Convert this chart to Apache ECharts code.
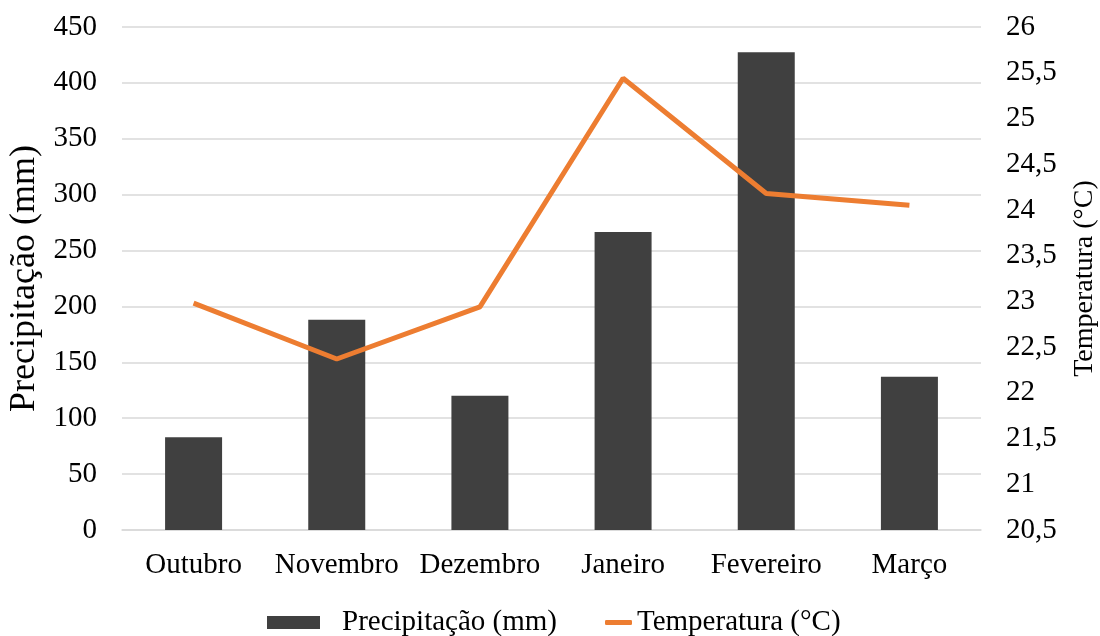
<!DOCTYPE html>
<html>
<head>
<meta charset="utf-8">
<script src="https://cdn.jsdelivr.net/npm/echarts@6/dist/echarts.min.js"></script>
<style>
  html, body { margin: 0; padding: 0; background: #fff; }
  #chart { width: 1100px; height: 636px; }
</style>
</head>
<body>
<div id="chart"></div>
<script>
// Monthly rainfall and mean temperature
const months = ['Outubro', 'Novembro', 'Dezembro', 'Janeiro', 'Fevereiro', 'Março'];
const precipitacao = [83, 188, 120, 266.5, 427.5, 137];
const temperatura = [22.98, 22.37, 22.94, 25.44, 24.18, 24.05];

const serif = '"Liberation Serif", "DejaVu Serif", serif';
const comma = v => String(v).replace('.', ',');
const legendText = { fontFamily: serif, fontSize: 29, color: '#000' };

const chart = echarts.init(document.getElementById('chart'), null, { renderer: 'canvas' });
chart.setOption({
  animation: false,
  textStyle: { fontFamily: serif, color: '#000' },
  grid: {
    left: 122, right: 119, top: 27, bottom: 106,
    containLabel: false,
    outerBoundsMode: 'none'
  },
  legend: [
    {
      // bar swatch
      top: 603,
      left: 262,
      icon: 'rect',
      itemWidth: 53,
      itemHeight: 13,
      textStyle: Object.assign({ padding: [0, 0, 0, 17] }, legendText),
      data: ['Precipitação (mm)']
    },
    {
      // line swatch
      top: 603,
      left: 600,
      icon: 'roundRect',
      itemWidth: 27,
      itemHeight: 5,
      textStyle: legendText,
      data: ['Temperatura (°C)']
    }
  ],
  xAxis: {
    type: 'category',
    data: months,
    axisLine: { show: true, lineStyle: { color: '#d9d9d9', width: 1.5 } },
    axisTick: { show: false },
    axisLabel: { fontFamily: serif, fontSize: 29, color: '#000', margin: 21, interval: 0 }
  },
  yAxis: [
    {
      type: 'value',
      min: 0, max: 450, interval: 50,
      name: 'Precipitação (mm)',
      nameLocation: 'middle',
      nameGap: 78,
      nameTextStyle: { fontFamily: serif, fontSize: 36, color: '#000' },
      axisLine: { show: false },
      axisTick: { show: false },
      axisLabel: { fontFamily: serif, fontSize: 29, color: '#000', margin: 25 },
      splitLine: { lineStyle: { color: '#d9d9d9', width: 1.5 } }
    },
    {
      type: 'value',
      min: 20.5, max: 26, interval: 0.5,
      name: 'Temperatura (°C)',
      nameLocation: 'middle',
      nameGap: 90,
      nameRotate: 90,
      nameTextStyle: { fontFamily: serif, fontSize: 28, color: '#000' },
      axisLine: { show: false },
      axisTick: { show: false },
      axisLabel: { fontFamily: serif, fontSize: 29, color: '#000', margin: 25, formatter: comma },
      splitLine: { show: false }
    }
  ],
  series: [
    {
      name: 'Precipitação (mm)',
      type: 'bar',
      yAxisIndex: 0,
      data: precipitacao,
      barWidth: 57,
      itemStyle: { color: '#404040' }
    },
    {
      name: 'Temperatura (°C)',
      type: 'line',
      yAxisIndex: 1,
      data: temperatura,
      symbol: 'none',
      lineStyle: { color: '#ed7d31', width: 5 },
      itemStyle: { color: '#ed7d31' }
    }
  ]
});
</script>
</body>
</html>
